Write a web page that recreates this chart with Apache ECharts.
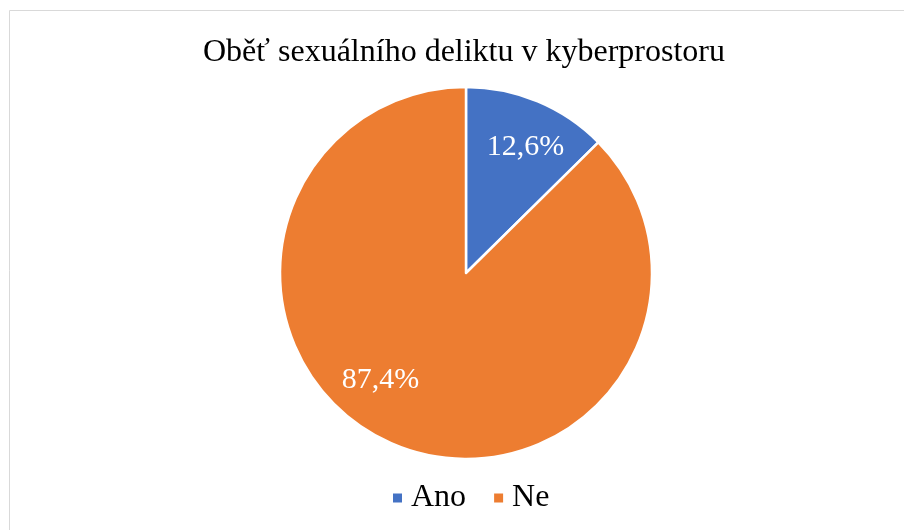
<!DOCTYPE html>
<html><head><meta charset="utf-8">
<script src="https://cdn.jsdelivr.net/npm/echarts@6/dist/echarts.min.js"></script>
<style>html,body{margin:0;padding:0;background:#fff}#c{width:904px;height:530px}</style>
</head><body><div id="c"></div>
<script>
const titleText = 'Oběť sexuálního deliktu v kyberprostoru';
const categories = ['Ano', 'Ne'];
const values = [12.6, 87.4];
const colors = ['#4472C4', '#ED7D31'];

const data = categories.map((n, i) => ({ name: n, value: values[i], itemStyle: { color: colors[i] } }));
const chart = echarts.init(document.getElementById('c'));
const font = '"Liberation Serif", "Times New Roman", serif';
const labelShift = [{ dx: 4, dy: 7 }, { dx: -30, dy: -26 }];
chart.setOption({
  animation: false,
  graphic: [{ type: 'rect', shape: { x: 9.5, y: 10.5, width: 1000, height: 1000 },
    style: { fill: 'none', stroke: '#d9d9d9', lineWidth: 1 }, silent: true }],
  title: { text: titleText, left: 203, top: 37, padding: 0,
    textStyle: { fontFamily: font, fontSize: 32, fontWeight: 'normal', color: '#000' } },
  legend: { data: categories, top: 482, left: 391, padding: 0, icon: 'rect', itemWidth: 11, itemHeight: 11,
    itemGap: 26, textStyle: { fontFamily: font, fontSize: 32, color: '#000', padding: [0, 0, 0, 3] } },
  series: [
    { type: 'pie', center: [466, 273], radius: [0, 186], startAngle: 90, clockwise: true,
      data: data, label: { show: false }, labelLine: { show: false },
      itemStyle: { borderColor: '#fff', borderWidth: 2.5 }, emphasis: { disabled: true } },
    { type: 'pie', center: [466, 273], radius: [96, 186], startAngle: 90, clockwise: true, silent: true,
      data: categories.map((n, i) => ({ name: n, value: values[i] })),
      itemStyle: { color: 'rgba(0,0,0,0)' }, labelLine: { show: false },
      labelLayout: p => labelShift[p.dataIndex],
      label: { show: true, position: 'inside', formatter: p => String(p.value).replace('.', ',') + '%',
        fontFamily: font, fontSize: 30, color: '#fff' }, emphasis: { disabled: true } }
  ]
});
</script></body></html>
